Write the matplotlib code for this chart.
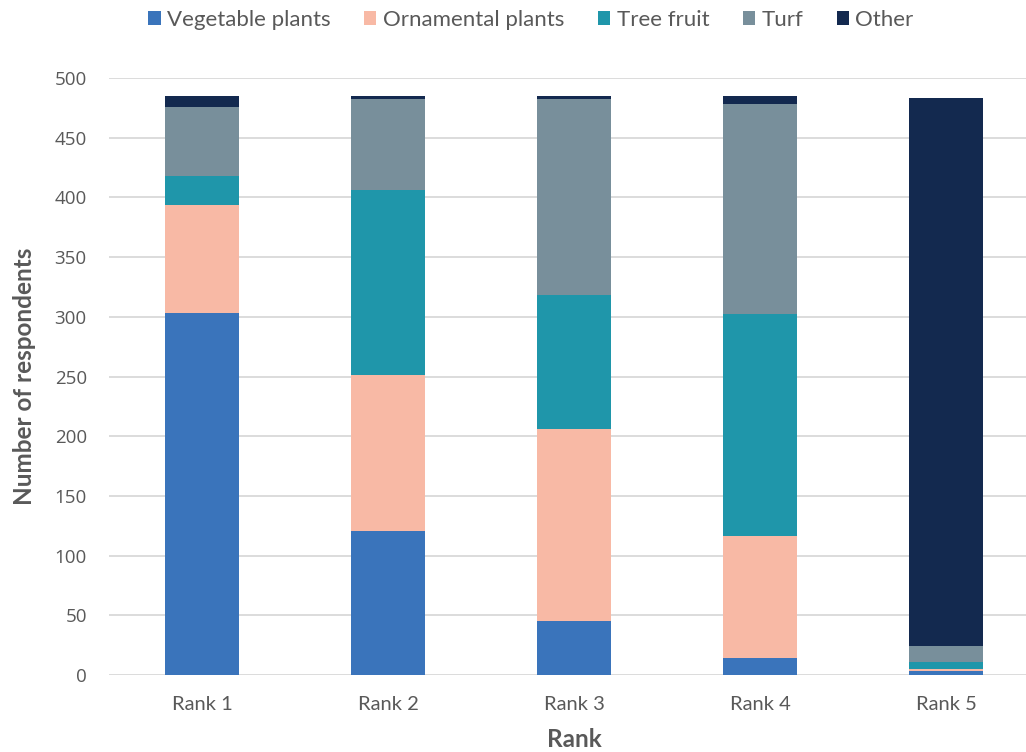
import matplotlib
matplotlib.use("Agg")
import matplotlib.pyplot as plt
import numpy as np
from matplotlib.patches import Patch

categories = ["Rank 1", "Rank 2", "Rank 3", "Rank 4", "Rank 5"]
series_names = ["Vegetable plants", "Ornamental plants", "Tree fruit", "Turf", "Other"]
vegetable = [303, 121, 45, 14, 3]
ornamental = [91, 130, 161, 102, 2]
tree_fruit = [24, 155, 112, 186, 6]
turf = [58, 76, 164, 176, 13]
other = [9, 3, 3, 7, 459]
colors = ["#3a74bb", "#f8b9a5", "#1f96aa", "#788f9b", "#13294f"]
y_ticks = [0, 50, 100, 150, 200, 250, 300, 350, 400, 450, 500]

text_color = "#595959"
plt.rcParams["font.family"] = ["Lato", "DejaVu Sans"]

fig = plt.figure(figsize=(10.26, 7.52), dpi=100)
W, H = 1026, 752
ax = fig.add_axes([109 / W, (H - 675) / H, 930 / W, (675 - 78) / H])

x = np.arange(len(categories))
bottom = np.zeros(len(categories))
for name, vals, col in zip(series_names, [vegetable, ornamental, tree_fruit, turf, other], colors):
    ax.bar(x, vals, width=0.4, bottom=bottom, color=col, zorder=3, label=name)
    bottom += np.array(vals)

ax.set_xlim(-0.5, len(categories) - 0.5)
ax.set_ylim(0, 500)
ax.set_yticks(y_ticks)
ax.set_yticklabels([str(v) for v in y_ticks], family="Open Sans", fontsize=13.5, color=text_color)
ax.set_xticks(x)
ax.set_xticklabels(categories, fontsize=14.5, color=text_color)
ax.tick_params(axis="both", length=0)
ax.tick_params(axis="y", pad=16)
ax.tick_params(axis="x", pad=15)
ax.grid(axis="y", color="#d9d9d9", linewidth=1.3, zorder=0)
for s in ax.spines.values():
    s.set_visible(False)

ax.set_ylabel("Number of respondents", fontsize=17.5, fontweight="bold", color=text_color)
ax.yaxis.set_label_coords(-(109 - 36) / 930, 0.5)
ax.set_xlabel("Rank", fontsize=17.5, fontweight="bold", color=text_color)
ax.xaxis.set_label_coords((574 - 109) / 930, -0.088)

handles = [Patch(facecolor=c, edgecolor="none") for c in colors]
fig.legend(handles, series_names, loc="center", bbox_to_anchor=(531 / W, 1 - 20 / H),
           ncol=5, frameon=False, fontsize=16, handlelength=0.55, handleheight=0.55,
           handletextpad=0.3, columnspacing=1.5, labelcolor=text_color)

fig.savefig("out.png", dpi=100, facecolor="white")
